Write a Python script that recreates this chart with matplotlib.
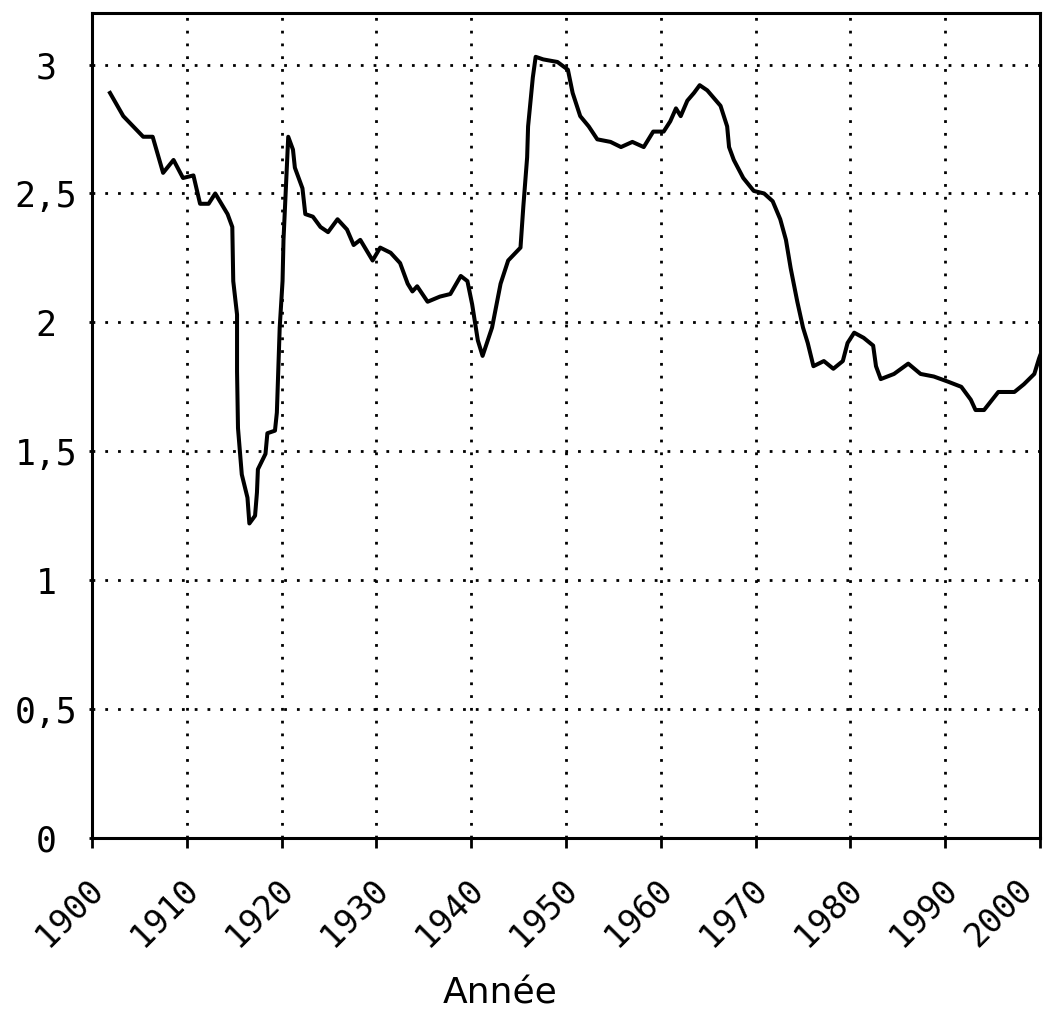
import matplotlib
matplotlib.use("Agg")
import matplotlib.pyplot as plt
import matplotlib.transforms as mtransforms
from matplotlib.ticker import FixedLocator, FuncFormatter

years = [1901.9, 1903.3, 1905.4, 1906.4, 1907.5, 1908.6, 1909.6, 1910.7, 1911.4, 1912.3,
         1913.0, 1914.3, 1914.8, 1914.9, 1915.3, 1915.3, 1915.4, 1915.8, 1916.4, 1916.6,
         1917.2, 1917.4, 1917.5, 1918.3, 1918.5, 1919.3, 1919.5, 1919.8, 1920.1, 1920.2,
         1920.7, 1921.2, 1921.4, 1922.2, 1922.5, 1923.3, 1924.1, 1924.9, 1925.9, 1926.9,
         1927.6, 1928.3, 1929.6, 1930.4, 1931.5, 1932.5, 1933.3, 1933.8, 1934.3, 1935.4,
         1936.7, 1937.8, 1938.9, 1939.6, 1940.1, 1940.7, 1941.2, 1942.2, 1943.1, 1943.9,
         1945.2, 1945.5, 1945.9, 1946.0, 1946.5, 1946.8, 1947.6, 1949.1, 1950.2, 1950.7,
         1951.5, 1952.4, 1953.3, 1954.7, 1955.8, 1957.0, 1958.2, 1959.2, 1960.3, 1961.0,
         1961.6, 1962.1, 1962.8, 1963.5, 1964.1, 1964.9, 1966.3, 1967.0, 1967.2, 1967.7,
         1968.7, 1969.8, 1970.9, 1971.8, 1972.6, 1973.2, 1973.7, 1974.4, 1975.0, 1975.5,
         1976.1, 1977.2, 1978.2, 1979.2, 1979.7, 1980.4, 1981.4, 1982.4, 1982.7, 1983.2,
         1984.6, 1986.1, 1987.4, 1988.8, 1990.3, 1991.7, 1992.7, 1993.2, 1994.1, 1995.6,
         1997.3, 1998.3, 1999.4, 1999.9, 2000.0]
values = [2.89, 2.80, 2.72, 2.72, 2.58, 2.63, 2.56, 2.57, 2.46, 2.46,
          2.50, 2.42, 2.37, 2.16, 2.03, 1.81, 1.59, 1.41, 1.32, 1.22,
          1.25, 1.34, 1.43, 1.49, 1.57, 1.58, 1.65, 1.98, 2.16, 2.32,
          2.72, 2.67, 2.60, 2.52, 2.42, 2.41, 2.37, 2.35, 2.40, 2.36,
          2.30, 2.32, 2.24, 2.29, 2.27, 2.23, 2.15, 2.12, 2.14, 2.08,
          2.10, 2.11, 2.18, 2.16, 2.07, 1.93, 1.87, 1.98, 2.15, 2.24,
          2.29, 2.45, 2.64, 2.76, 2.95, 3.03, 3.02, 3.01, 2.98, 2.89,
          2.80, 2.76, 2.71, 2.70, 2.68, 2.70, 2.68, 2.74, 2.74, 2.78,
          2.83, 2.80, 2.86, 2.89, 2.92, 2.90, 2.84, 2.76, 2.68, 2.63,
          2.56, 2.51, 2.50, 2.47, 2.40, 2.32, 2.21, 2.08, 1.98, 1.92,
          1.83, 1.85, 1.82, 1.85, 1.92, 1.96, 1.94, 1.91, 1.83, 1.78,
          1.80, 1.84, 1.80, 1.79, 1.77, 1.75, 1.70, 1.66, 1.66, 1.73,
          1.73, 1.76, 1.80, 1.86, 1.87]

x_ticks = [1900, 1910, 1920, 1930, 1940, 1950, 1960, 1970, 1980, 1990, 2000]
y_ticks = [0, 0.5, 1, 1.5, 2, 2.5, 3]
x_label = "Année"

fig = plt.figure(figsize=(10.47, 10.15), dpi=100)
ax = fig.add_axes([92/1047, 1 - 838/1015, (1040 - 92)/1047, (838 - 13)/1015])

ax.plot(years, values, color="black", lw=2.9, solid_joinstyle="round")

ax.set_xlim(1900, 2000)
ax.set_ylim(0, 3.2)

dots = (0, (1, 3.6))
for xv in x_ticks[1:-1]:
    ax.axvline(xv, color="black", lw=2.0, linestyle=dots, zorder=0)
for yv in y_ticks:
    ax.axhline(yv, color="black", lw=2.0, linestyle=dots, zorder=0)

for s in ax.spines.values():
    s.set_linewidth(2.2)
    s.set_color("black")

ax.xaxis.set_major_locator(FixedLocator(x_ticks))
ax.yaxis.set_major_locator(FixedLocator(y_ticks))
ax.yaxis.set_major_formatter(FuncFormatter(lambda v, p: ("%g" % v).replace(".", ",")))
ax.tick_params(axis="x", direction="out", length=7, width=2, pad=18)
ax.tick_params(axis="y", direction="out", length=2, width=2, pad=31)

mono = "DejaVu Sans Mono"
xlabels = ax.get_xticklabels()
for i, lab in enumerate(xlabels):
    lab.set_rotation(45)
    lab.set_rotation_mode("anchor")
    lab.set_ha("right")
    lab.set_va("top")
    lab.set_fontsize(24)
    lab.set_family(mono)
    dx = -5 if i < len(xlabels) - 1 else -24
    lab.set_transform(lab.get_transform() +
                      mtransforms.ScaledTranslation(dx / 100, 0, fig.dpi_scale_trans))
for lab in ax.get_yticklabels():
    lab.set_fontsize(25)
    lab.set_family(mono)
    lab.set_ha("center")

ax.set_xlabel(x_label, fontsize=26, family="DejaVu Sans")
ax.xaxis.set_label_coords(0.43, -0.189)
ax.xaxis.label.set_va("center")

fig.savefig("out.png", dpi=100)
